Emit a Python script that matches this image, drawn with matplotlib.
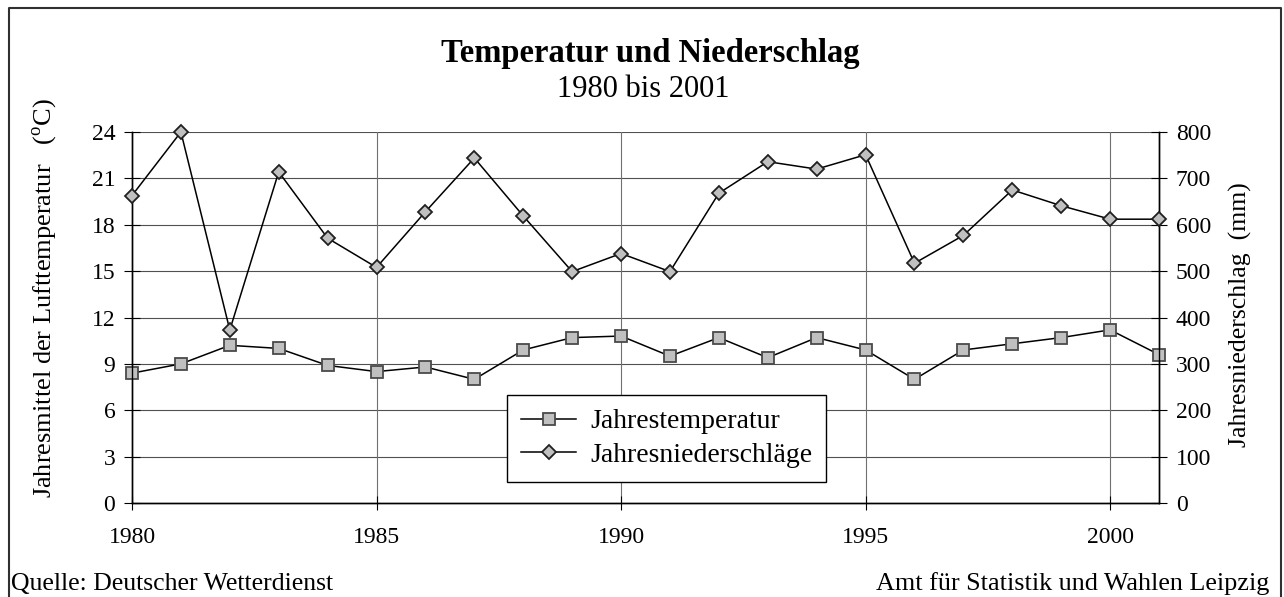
import matplotlib
matplotlib.use("Agg")
import matplotlib.pyplot as plt
from matplotlib.lines import Line2D

plt.rcParams['font.family'] = ['Liberation Serif', 'DejaVu Serif']
plt.rcParams['mathtext.fontset'] = 'custom'
plt.rcParams['mathtext.rm'] = 'Liberation Serif'

# ---- data ----
years = list(range(1980, 2002))
temperature = [8.4, 9.0, 10.2, 10.0, 8.9, 8.5, 8.8, 8.0, 9.9, 10.7, 10.8,
               9.5, 10.7, 9.4, 10.7, 9.9, 8.0, 9.9, 10.3, 10.7, 11.2, 9.6]
precipitation = [663, 800, 373, 714, 571, 508, 628, 744, 619, 499, 538,
                 499, 668, 736, 720, 751, 517, 577, 675, 641, 612, 612]
temp_ticks = [0, 3, 6, 9, 12, 15, 18, 21, 24]
prec_ticks = [0, 100, 200, 300, 400, 500, 600, 700, 800]
year_ticks = [1980, 1985, 1990, 1995, 2000]

title = "Temperatur und Niederschlag"
subtitle = "1980 bis 2001"
left_label = r"Jahresmittel der Lufttemperatur   ($^{\rm o}$C)"
right_label = "Jahresniederschlag  (mm)"
series_names = ["Jahrestemperatur", "Jahresniederschläge"]
source_left = "Quelle: Deutscher Wetterdienst"
source_right = "Amt für Statistik und Wahlen Leipzig"

W, H = 1284, 597
fig = plt.figure(figsize=(W / 100, H / 100), dpi=100)
fig.patch.set_facecolor('white')

ax = fig.add_axes([132 / W, 1 - 503 / H, (1159 - 132) / W, (503 - 132) / H])
ax2 = ax.twinx()

grid_c = '#505050'
ax.set_xlim(1980, 2001)
ax.set_ylim(0, 24)
ax2.set_ylim(0, 800)
ax.set_yticks(temp_ticks)
ax2.set_yticks(prec_ticks)
ax.set_xticks(year_ticks)

for y in temp_ticks[1:]:
    ax.axhline(y, color=grid_c, lw=0.8, zorder=0)
for x in year_ticks[1:]:
    ax.axvline(x, color='#707070', lw=0.8, zorder=0)

for a in (ax, ax2):
    a.spines['top'].set_visible(False)
    for s in ('left', 'right', 'bottom'):
        a.spines[s].set_color('black')
        a.spines[s].set_linewidth(1.0)
    a.set_facecolor('none')

ax.tick_params(axis='y', direction='inout', length=12, width=0.8, labelsize=17, pad=6)
ax.tick_params(axis='x', direction='inout', length=10, width=0.8, labelsize=17, pad=12)
ax2.tick_params(axis='y', direction='inout', length=12, width=0.8, labelsize=17, pad=6)

l1, = ax.plot(years, temperature, color='black', lw=1.1, marker='s', markersize=8.5,
              markerfacecolor='#c0c0c0', markeredgecolor='#4a4a4a', markeredgewidth=1.3,
              clip_on=False, zorder=3)
l2, = ax2.plot(years, precipitation, color='black', lw=1.1, marker='D', markersize=7.5,
               markerfacecolor='#c0c0c0', markeredgecolor='#202020', markeredgewidth=1.3,
               clip_on=False, zorder=3)

leg = ax2.legend([l1, l2], series_names, loc='upper left',
                 bbox_to_anchor=(507 / W, 1 - 395 / H), bbox_transform=fig.transFigure,
                 fontsize=20, frameon=True, fancybox=False, framealpha=1,
                 edgecolor='black', handlelength=2.0, handletextpad=0.5,
                 borderpad=0.5, labelspacing=0.3, borderaxespad=0)
leg.get_frame().set_linewidth(1.0)
leg.set_zorder(10)

fig.text(650 / W, 1 - 62 / H, title, ha='center', va='baseline', fontsize=23.5, fontweight='bold')
fig.text(643 / W, 1 - 97 / H, subtitle, ha='center', va='baseline', fontsize=22)
fig.text(45 / W, 1 - 298 / H, left_label, rotation=90, ha='center', va='center', fontsize=19)
fig.text(1240 / W, 1 - 315 / H, right_label, rotation=90, ha='center', va='center', fontsize=18.5)
fig.text(11 / W, 1 - 590 / H, source_left, ha='left', va='baseline', fontsize=18.5)
fig.text(1269 / W, 1 - 590 / H, source_right, ha='right', va='baseline', fontsize=18.8)

# outer frame (top, left, right)
frame_c = '#303030'
fig.add_artist(Line2D([8.5 / W, 8.5 / W, 1281 / W, 1281 / W], [0, 1 - 7.5 / H, 1 - 7.5 / H, 0],
                      transform=fig.transFigure, color=frame_c, lw=1.5))

fig.savefig('out.png', dpi=100, facecolor='white')
